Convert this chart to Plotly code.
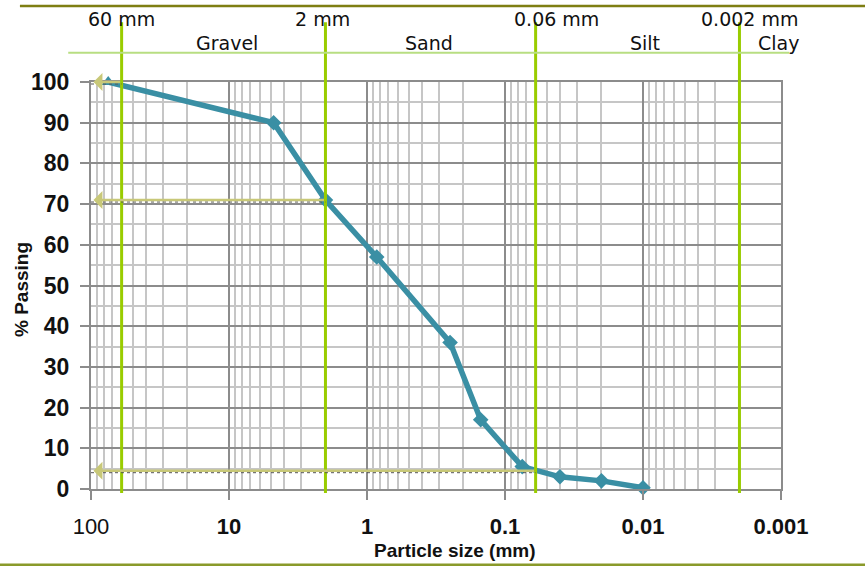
import numpy as np
import plotly.graph_objects as go

# ---- data ----
particle_size_mm = [75, 4.75, 2.0, 0.85, 0.25, 0.15, 0.075, 0.04, 0.02, 0.01]
percent_passing = [100, 90, 71, 57, 36, 17, 5.5, 3, 2, 0.3]

boundary_sizes = [60, 2, 0.06, 0.002]
boundary_labels = ["60 mm", "2 mm", "0.06 mm", "0.002 mm"]
boundary_label_shift = [0, -3, 21, 10]

zone_names = ["Gravel", "Sand", "Silt", "Clay"]
zone_centers = [np.sqrt(60 * 2), np.sqrt(2 * 0.06), np.sqrt(0.06 * 0.002), 0.002]
zone_shift = [3, -2, 7, 39]

read_sizes = [60, 2, 0.06]
read_passing = [100, 71, 4.5]

x_tickvals = [100, 10, 1, 0.1, 0.01, 0.001]
x_ticktext = ["100", "<b>10</b>", "<b>1</b>", "<b>0.1</b>", "<b>0.01</b>", "<b>0.001</b>"]
y_tickvals = list(range(0, 101, 10))

TEAL = "#3A8FA4"
GREEN = "#99CC00"
LIGHTGREEN = "#B8DE82"
ARROW = "#C8C878"
OLIVE = "#7E7E12"
MAJOR = "#8C8C8C"
MINOR = "#C6C6C6"

fig = go.Figure()

fig.add_trace(go.Scatter(
    x=particle_size_mm, y=percent_passing, mode="lines+markers",
    line=dict(color=TEAL, width=5.5),
    marker=dict(color=TEAL, size=12,
                symbol=["triangle-up"] + ["diamond"] * (len(particle_size_mm) - 1)),
    cliponaxis=False, showlegend=False, hoverinfo="skip",
))

shapes = []
# green boundary lines
for s in boundary_sizes:
    shapes.append(dict(type="line", xref="x", yref="paper", x0=s, x1=s,
                       y0=-0.01, y1=1.147, line=dict(color=GREEN, width=3), layer="above"))
# light green horizontal line
shapes.append(dict(type="line", xref="paper", yref="paper", x0=-0.033, x1=1.012,
                   y0=1.072, y1=1.072, line=dict(color=LIGHTGREEN, width=2)))
# olive header / footer lines
shapes.append(dict(type="line", xref="paper", yref="paper", x0=-0.103, x1=1.13,
                   y0=1.1865, y1=1.1865, line=dict(color=OLIVE, width=2.5)))
shapes.append(dict(type="line", xref="paper", yref="paper", x0=-0.14, x1=1.13,
                   y0=-0.187, y1=-0.187, line=dict(color="#8A9A2A", width=3)))
# dotted shadow lines under read arrows
for s, p in zip(read_sizes, read_passing):
    shapes.append(dict(type="line", xref="x", yref="y", ysizemode="pixel", yanchor=p,
                       x0=100, x1=s, y0=-2, y1=-2,
                       line=dict(color="#555555", width=1, dash="dot")))

annotations = []
for s, p in zip(read_sizes, read_passing):
    annotations.append(dict(
        x=np.log10(96), y=p, ax=np.log10(s), ay=p, xref="x", yref="y",
        axref="x", ayref="y", text="", showarrow=True,
        arrowhead=1, arrowsize=1.2, arrowwidth=2.5, arrowcolor=ARROW))

for s, lab, sh in zip(boundary_sizes, boundary_labels, boundary_label_shift):
    annotations.append(dict(x=np.log10(s), y=1.155, xref="x", yref="paper",
                            yanchor="middle", text=lab, showarrow=False, xshift=sh,
                            font=dict(family="DejaVu Sans", size=19, color="#111111")))
for c, name, sh in zip(zone_centers, zone_names, zone_shift):
    annotations.append(dict(x=np.log10(c), y=1.096, xref="x", yref="paper",
                            yanchor="middle", text=name, showarrow=False, xshift=sh,
                            font=dict(family="DejaVu Sans", size=19, color="#111111")))

# axis titles
annotations.append(dict(x=0.527, y=-0.15, xref="paper", yref="paper",
                        xanchor="center", yanchor="middle", showarrow=False,
                        text="<b>Particle size (mm)</b>",
                        font=dict(family="Liberation Sans", size=19, color="#111111")))
annotations.append(dict(x=-0.1, y=0.489, xref="paper", yref="paper",
                        xanchor="center", yanchor="middle", showarrow=False,
                        textangle=-90, text="<b>% Passing</b>",
                        font=dict(family="Liberation Sans", size=19, color="#111111")))

fig.update_layout(
    width=865, height=566,
    margin=dict(l=91, r=84, t=82, b=77, autoexpand=False),
    paper_bgcolor="white", plot_bgcolor="white",
    shapes=shapes, annotations=annotations,
    xaxis=dict(
        type="log", range=[2, -3], automargin=False,
        tickvals=x_tickvals, ticktext=x_ticktext,
        tickfont=dict(family="Liberation Sans", size=22, color="#111111"),
        ticks="outside", ticklen=9, tickwidth=2, tickcolor=MAJOR,
        ticklabelstandoff=8,
        showgrid=True, gridcolor=MAJOR, gridwidth=2,
        minor=dict(dtick="D1", showgrid=True, gridcolor=MINOR, gridwidth=2, ticks=""),
        showline=True, linecolor=MAJOR, linewidth=2, mirror=True,
        zeroline=False,
    ),
    yaxis=dict(
        range=[0, 100], tickvals=y_tickvals, automargin=False,
        ticktext=[f"<b>{v}</b>" for v in y_tickvals],
        tickfont=dict(family="Liberation Sans", size=23, color="#111111"),
        ticks="outside", ticklen=9, tickwidth=2, tickcolor=MAJOR,
        ticklabelstandoff=6,
        showgrid=True, gridcolor=MAJOR, gridwidth=2,
        minor=dict(dtick=5, showgrid=True, gridcolor=MINOR, gridwidth=2, ticks=""),
        showline=True, linecolor=MAJOR, linewidth=2, mirror=True,
        zeroline=False,
    ),
)

fig.write_html("out.html")
